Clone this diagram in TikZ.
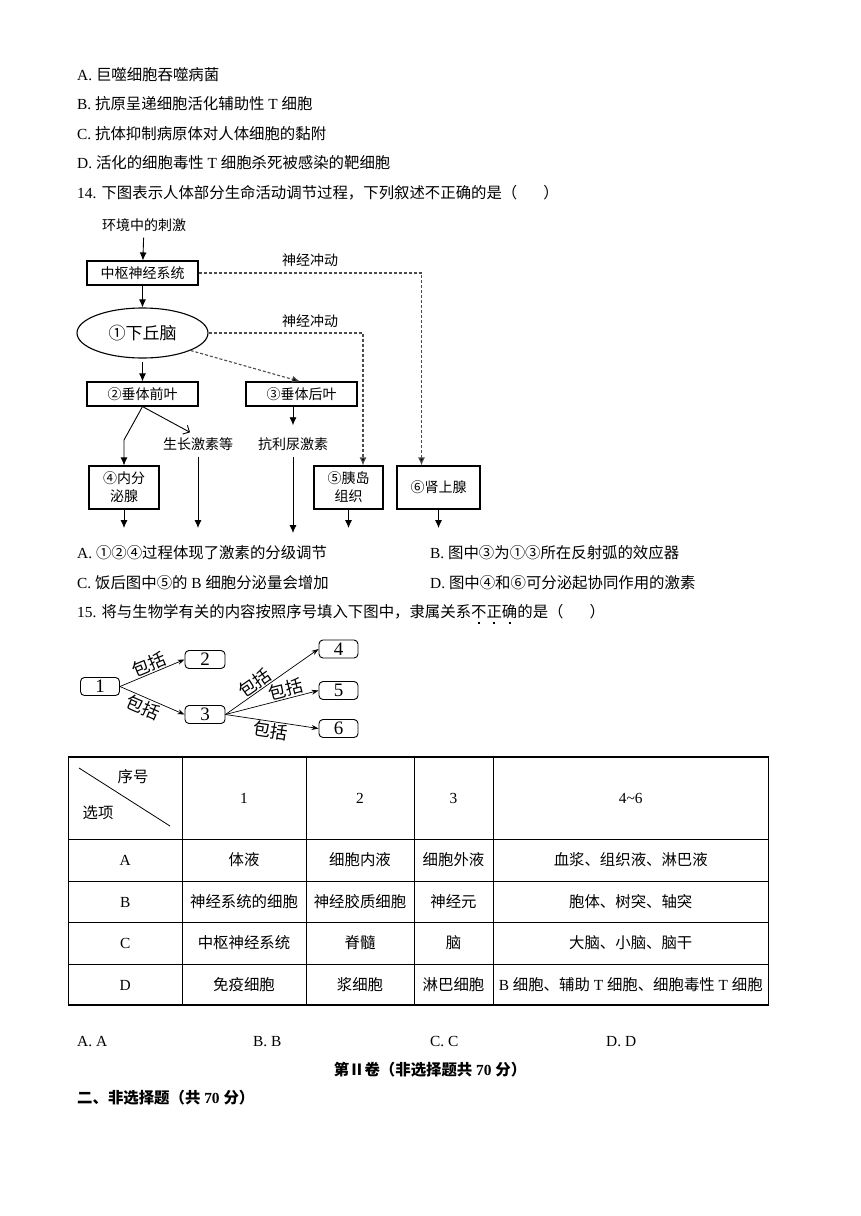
\documentclass[tikz,border=0pt]{standalone}
\usepackage{fontspec}
\setmainfont{Liberation Serif}
\newfontfamily\cjk{Noto Sans CJK SC}
\usetikzlibrary{arrows,arrows.meta,shapes.geometric}

% Chinese characters are set in the CJK font, the rest in the main font
\XeTeXinterchartokenstate=1
\newXeTeXintercharclass\cjkclass
\newcount\cjkc
\newcommand\cjkrange[2]{\cjkc=#1\relax
  \loop\XeTeXcharclass\cjkc=\cjkclass
  \ifnum\cjkc<#2\relax\advance\cjkc by 1\repeat}
\cjkrange{"2150}{"218F}
\cjkrange{"2460}{"24FF}
\cjkrange{"3000}{"303F}
\cjkrange{"4E00}{"9FFF}
\cjkrange{"FF00}{"FFEF}
\XeTeXinterchartoks 0 \cjkclass = {\cjk}
\XeTeXinterchartoks 4095 \cjkclass = {\cjk}
\XeTeXinterchartoks \cjkclass 0 = {\rmfamily}
\XeTeXinterchartoks \cjkclass 4095 = {\rmfamily}

% emphasis dot under a character
\newcommand\zd[1]{\ooalign{#1\cr\hidewidth\raisebox{-6.5pt}{\smash{\rule{2pt}{2pt}}}\hidewidth\cr}}

\begin{document}
\begin{tikzpicture}[x=1pt,y=-1pt,
  body/.style={inner sep=0,anchor=west,font=\fontsize{15.4}{18}\selectfont,text height=13.5pt,text depth=2pt},
  cell/.style={body,anchor=center},
  head/.style={body,font=\bfseries\fontsize{15.4}{18}\selectfont},
  box/.style={draw,line width=1.1pt,inner sep=0,minimum width=111pt,minimum height=24pt,align=center,font=\cjk\fontsize{14}{18}\selectfont},
  gland/.style={box,minimum width=70pt,minimum height=43pt},
  word/.style={inner sep=0,font=\cjk\fontsize{14}{17}\selectfont},
  to/.style={->,>={Latex[length=8pt,width=7pt]},line width=0.9pt},
  nerve/.style={->,>={Latex[length=8pt,width=7pt,fill=black]},dash pattern=on 3pt off 2pt,draw=black!70,line width=1.1pt},
  item/.style={draw,rounded corners=4pt,line width=0.9pt,inner sep=0,minimum width=39pt,minimum height=18pt,font=\fontsize{19}{20}\selectfont},
  incl/.style={->,>={Stealth[length=7pt,width=5pt]},line width=0.7pt},
  tag/.style={inner sep=1pt,sloped,font=\cjk\fontsize{17.5}{19}\selectfont}]

  \fill[white] (0,0) rectangle (860,1216);
  \useasboundingbox (0,0) rectangle (860,1216);

  % Question text
  \node[body] (q13a) at (77,75) {A. 巨噬细胞吞噬病菌};
  \node[body] (q13b) at (77,104) {B. 抗原呈递细胞活化辅助性 T 细胞};
  \node[body] (q13c) at (77,134) {C. 抗体抑制病原体对人体细胞的黏附};
  \node[body] (q13d) at (77,163) {D. 活化的细胞毒性 T 细胞杀死被感染的靶细胞};
  \node[body] (q14) at (77,193) {14. 下图表示人体部分生命活动调节过程，下列叙述不正确的是（\hspace{26pt}）};

  % Regulation diagram
  \node[word] (stim) at (144,225) {环境中的刺激};
  \node[box] (cns) at (142.5,273) {中枢神经系统};
  \node[draw,ellipse,line width=1.1pt,minimum width=131pt,minimum height=50pt,inner sep=0,
    font=\cjk\fontsize{17}{20}\selectfont] (hypo) at (142.5,333) {①下丘脑};
  \node[box] (ant) at (142.5,394) {②垂体前叶};
  \node[box] (post) at (301.5,394) {③垂体后叶};
  \node[word] (gh) at (198,444) {生长激素等};
  \node[word] (adh) at (293,444) {抗利尿激素};
  \node[gland] (endo) at (124,487.5) {④内分\\泌腺};
  \node[gland,minimum width=69pt] (islet) at (348.5,487.5) {⑤胰岛\\组织};
  \node[gland,minimum width=83pt] (adrenal) at (438.5,487.5) {⑥肾上腺};
  \node[word] (imp1) at (310,260) {神经冲动};
  \node[word] (imp2) at (310,321) {神经冲动};

  \coordinate (bend) at (124,440);
  \coordinate (endo-out) at (124,528);
  \coordinate (gh-out) at (198,528);
  \coordinate (adh-out) at (293,533);
  \coordinate (islet-out) at (348.5,528);
  \coordinate (adrenal-out) at (438.5,528);

  \draw[to,shorten <=6pt] (stim) -- (cns);
  \draw[to] (cns) -- (hypo);
  \draw[to,shorten <=3pt] (hypo) -- (ant);
  \draw[to] (ant.south) -- (bend) -- (endo.north);
  \draw[->,>={Straight Barb[length=5pt,width=10pt]},line width=0.9pt] (ant.south) -- ([xshift=-8pt,yshift=5pt]gh.north);
  \draw[to] (post.south -| adh) -- ([yshift=12pt]adh.north);
  \draw[to,shorten <=6pt] (gh) -- (gh-out);
  \draw[to,shorten <=6pt] (adh) -- (adh-out);
  \draw[to] (endo) -- (endo-out);
  \draw[to] (islet) -- (islet-out);
  \draw[to] (adrenal) -- (adrenal-out);
  \draw[nerve] (cns) -| ([xshift=-17pt]adrenal.north);
  \draw[nerve] (hypo) -| ([xshift=14.5pt]islet.north);
  \draw[nerve] (hypo.-20) -- ([xshift=-1.5pt]post.north);

  % Answer choices and question 15
  \node[body] (q14a) at (77,553) {A. ①②④过程体现了激素的分级调节};
  \node[body] (q14b) at (430,553) {B. 图中③为①③所在反射弧的效应器};
  \node[body] (q14c) at (77,583) {C. 饭后图中⑤的 B 细胞分泌量会增加};
  \node[body] (q14d) at (430,583) {D. 图中④和⑥可分泌起协同作用的激素};
  \node[body] (q15) at (77,612) {15. 将与生物学有关的内容按照序号填入下图中，隶属关系\zd{不}\zd{正}\zd{确}的是（\hspace{26pt}）};

  % Inclusion diagram
  \node[item] (n1) at (100,686.5) {1};
  \node[item,minimum width=40pt] (n2) at (205,659.5) {2};
  \node[item,minimum width=40pt] (n3) at (205,714.5) {3};
  \node[item] (n4) at (338.5,649) {4};
  \node[item] (n5) at (338.5,690.5) {5};
  \node[item] (n6) at (338.5,728.5) {6};

  \draw[incl] (n1.east) -- node[tag,above] {包括} (n2.west);
  \draw[incl] (n1.east) -- node[tag,below,pos=0.42] {包括} (n3.west);
  \draw[incl] (n3.east) -- node[tag,above,pos=0.37] {包括} (n4.west);
  \draw[incl] (n3.east) -- node[tag,above,pos=0.67] {包括} (n5.west);
  \draw[incl] (n3.east) -- node[tag,below,pos=0.5] {包括} (n6.west);

  % Table
  \draw[line width=1.1pt] (68.5,757) rectangle (768.5,1005);
  \foreach \x in {182,306,414,493} \draw[line width=1pt] (\x,757) -- (\x,1005);
  \foreach \y in {839,881,922.5,964} \draw[line width=1pt] (68.5,\y) -- (768.5,\y);
  \draw[line width=0.8pt] (79,768) -- (170,826);
  \node[cell] (hno) at (133,777) {序号};
  \node[cell] (hopt) at (98,813) {选项};
  \node[cell] (h1) at (244,798) {1};
  \node[cell] (h2) at (360,798) {2};
  \node[cell] (h3) at (453.5,798) {3};
  \node[cell] (h4) at (630.75,798) {4\textasciitilde6};
  \foreach \y/\k/\a/\b/\c/\d in {
    860/A/体液/细胞内液/细胞外液/血浆、组织液、淋巴液,
    901.5/B/神经系统的细胞/神经胶质细胞/神经元/胞体、树突、轴突,
    943/C/中枢神经系统/脊髓/脑/大脑、小脑、脑干,
    984.5/D/免疫细胞/浆细胞/淋巴细胞/B 细胞、辅助 T 细胞、细胞毒性 T 细胞} {
    \node[cell] (row\k) at (125.25,\y) {\k};
    \node[cell] (row\k-1) at (244,\y) {\a};
    \node[cell] (row\k-2) at (360,\y) {\b};
    \node[cell] (row\k-3) at (453.5,\y) {\c};
    \node[cell] (row\k-4) at (630.75,\y) {\d};
  }

  % Answers and next part
  \node[body] (ansA) at (77,1041) {A. A};
  \node[body] (ansB) at (253,1041) {B. B};
  \node[body] (ansC) at (430,1041) {C. C};
  \node[body] (ansD) at (606,1041) {D. D};
  \node[head,anchor=center] (part2) at (430,1070) {第Ⅱ卷（非选择题共 70 分）};
  \node[head] (sec2) at (77,1098) {二、非选择题（共 70 分）};
\end{tikzpicture}
\end{document}
